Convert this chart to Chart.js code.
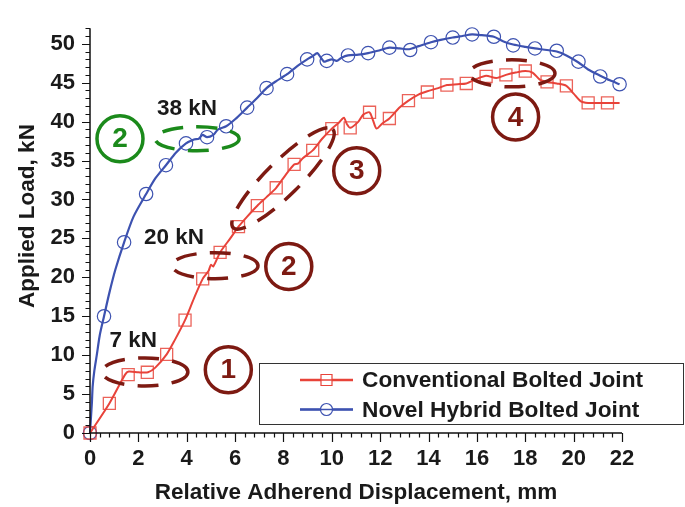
<!DOCTYPE html>
<html>
<head>
<meta charset="utf-8">
<script src="https://cdn.jsdelivr.net/npm/chart.js@4.4.0/dist/chart.umd.min.js"></script>
<style>
  html, body { margin: 0; padding: 0; background: #fff; }
  #wrap { width: 685px; height: 507px; }
</style>
</head>
<body>
<div id="wrap"><canvas id="chart" width="685" height="507"></canvas></div>
<script>
// --- DATA ---
const xTicks = [0, 2, 4, 6, 8, 10, 12, 14, 16, 18, 20, 22];
const yTicks = [0, 5, 10, 15, 20, 25, 30, 35, 40, 45, 50];
const seriesNames = ['Conventional Bolted Joint', 'Novel Hybrid Bolted Joint'];
const xTitle = 'Relative Adherend Displacement, mm';
const yTitle = 'Applied Load, kN';

// traced load-displacement curves [mm, kN]
const conventionalPath = [
  [0, 0], [0.8, 3.8], [1.45, 7.5], [1.6, 7.9], [2.0, 7.8], [2.4, 7.8], [2.7, 8.4], [3.17, 10.1],
  [3.5, 11.9], [3.93, 14.5], [4.3, 17.3], [4.66, 19.8], [4.9, 20.8], [5.0, 21.6], [5.1, 21.4],
  [5.38, 23.2], [5.8, 25.0], [6.14, 26.5], [6.5, 27.8], [6.92, 29.2], [7.3, 30.3], [7.7, 31.5],
  [8.1, 33.2], [8.44, 34.5], [8.6, 34.6], [8.8, 35.3], [9.21, 36.3], [9.6, 37.8], [10.0, 39.1],
  [10.3, 39.9], [10.5, 40.5], [10.62, 39.7], [10.76, 39.2], [11.1, 40.0], [11.3, 40.9], [11.56, 41.2],
  [11.7, 40.2], [11.85, 39.1], [12.1, 39.8], [12.38, 40.4], [12.8, 41.8], [13.17, 42.7], [13.6, 43.5],
  [13.95, 43.9], [14.4, 44.3], [14.76, 44.7], [15.2, 44.8], [15.56, 44.9], [16.0, 45.5], [16.38, 45.9],
  [16.8, 45.6], [17.2, 46.0], [17.6, 46.3], [18.0, 46.5], [18.3, 46.3], [18.6, 45.4], [18.9, 45.1],
  [19.3, 44.9], [19.7, 44.6], [20.0, 43.6], [20.3, 42.6], [20.6, 42.4], [21.0, 42.4], [21.4, 42.4],
  [21.9, 42.4]
];
const conventionalMarkers = [
  [0, 0], [0.8, 3.8], [1.58, 7.5], [2.37, 7.8], [3.17, 10.1], [3.93, 14.5], [4.66, 19.8], [5.38, 23.2],
  [6.14, 26.5], [6.92, 29.2], [7.7, 31.5], [8.44, 34.5], [9.21, 36.3], [10.0, 39.1], [10.76, 39.2],
  [11.56, 41.2], [12.38, 40.4], [13.17, 42.7], [13.95, 43.8], [14.76, 44.7], [15.56, 44.9], [16.38, 45.8],
  [17.2, 46.0], [18.0, 46.5], [18.9, 45.1], [19.7, 44.6], [20.6, 42.4], [21.4, 42.4]
];
const hybridPath = [
  [0, 0], [0.04, 2], [0.08, 4], [0.11, 6], [0.18, 8], [0.28, 10], [0.4, 12.5], [0.58, 15], [0.8, 18],
  [1.05, 21], [1.41, 24.5], [1.8, 27.8], [2.32, 30.7], [2.7, 32.7], [3.14, 34.4], [3.55, 36],
  [3.97, 37.2], [4.3, 37.7], [4.5, 37.8], [4.65, 38.3], [4.84, 38.0], [5.1, 38.3], [5.3, 39.0],
  [5.63, 39.4], [6.0, 40.3], [6.5, 41.8], [6.9, 43.0], [7.3, 44.3], [7.7, 45.2], [8.15, 46.1],
  [8.6, 47.2], [8.98, 48.0], [9.2, 48.4], [9.4, 48.8], [9.55, 48.2], [9.68, 47.7], [9.79, 47.8],
  [10.0, 48.0], [10.2, 47.8], [10.4, 48.2], [10.67, 48.5], [11.1, 48.6], [11.5, 48.8], [11.9, 49.1],
  [12.38, 49.5], [12.8, 49.4], [13.2, 49.3], [13.6, 49.7], [14.1, 50.2], [14.5, 50.5], [15.0, 50.8],
  [15.4, 51.0], [15.8, 51.2], [16.2, 51.1], [16.7, 50.9], [17.1, 50.3], [17.5, 49.9], [18.0, 49.6],
  [18.4, 49.4], [18.9, 49.2], [19.3, 49.0], [19.7, 48.5], [20.2, 47.6], [20.6, 46.7], [21.1, 45.9],
  [21.5, 45.3], [21.9, 44.8]
];
const hybridMarkers = [
  [0, 0], [0.58, 15.0], [1.41, 24.5], [2.32, 30.7], [3.14, 34.4], [3.97, 37.2], [4.84, 38.0], [5.63, 39.4],
  [6.5, 41.8], [7.3, 44.3], [8.15, 46.1], [8.98, 48.0], [9.79, 47.8], [10.67, 48.5], [11.5, 48.8],
  [12.38, 49.5], [13.24, 49.2], [14.1, 50.2], [15.0, 50.8], [15.8, 51.2], [16.7, 50.9], [17.5, 49.8],
  [18.4, 49.4], [19.3, 49.1], [20.2, 47.7], [21.1, 45.8], [21.9, 44.8]
];

// --- ANNOTATIONS (data coords, sizes in px) ---
const DARK_RED = '#7d1a12';
const GREEN = '#1b8a1b';
const stageLabels = [
  { x: 1.79, y: 11.8, text: '7 kN' },
  { x: 3.47, y: 25.1, text: '20 kN' },
  { x: 4.01, y: 41.6, text: '38 kN' }
];
const stageEllipses = [
  { x: 2.27, y: 7.85, rx: 43, ry: 14, rot: 0, color: DARK_RED },
  { x: 5.17, y: 21.5, rx: 43, ry: 13, rot: 0, color: DARK_RED },
  { x: 7.98, y: 32.7, rx: 70, ry: 17, rot: -0.78, color: DARK_RED },
  { x: 17.45, y: 46.2, rx: 43, ry: 13.5, rot: 0, color: DARK_RED },
  { x: 4.43, y: 37.8, rx: 42, ry: 12, rot: 0, color: GREEN }
];
const stageNumbers = [
  { x: 5.72, y: 8.13, text: '1', color: DARK_RED },
  { x: 8.22, y: 21.4, text: '2', color: DARK_RED },
  { x: 11.03, y: 33.7, text: '3', color: DARK_RED },
  { x: 17.6, y: 40.6, text: '4', color: DARK_RED },
  { x: 1.24, y: 37.8, text: '2', color: GREEN }
];

const RED = '#e8433a';
const RED_MARK = 'rgba(232, 70, 60, 0.85)';
const BLUE = '#3d52b0';
const FONT = '"Liberation Sans", Arial, Helvetica, sans-serif';
const toPts = arr => arr.map(p => ({ x: p[0], y: p[1] }));

// --- DECORATION PLUGIN ---
const decorPlugin = {
  id: 'decor',
  afterDatasetsDraw(chart) {
    const { ctx, scales: { x, y } } = chart;
    ctx.save();
    ctx.strokeStyle = '#111';
    ctx.lineWidth = 1.5;
    const x0 = x.left, x1 = x.right, yb = y.bottom, yt = y.top;
    ctx.beginPath();
    ctx.moveTo(x0, yt); ctx.lineTo(x0, yb); ctx.lineTo(x1, yb);
    ctx.stroke();
    ctx.lineWidth = 1.2;
    ctx.beginPath();
    for (let v = 0; v <= 52; v++) {
      const py = Math.round(y.getPixelForValue(v)) + 0.5;
      const len = v % 5 === 0 ? 8 : 4.5;
      ctx.moveTo(x0, py); ctx.lineTo(x0 - len, py);
    }
    for (let i = 0; i <= 55; i++) {
      const px = Math.round(x.getPixelForValue(i * 0.4)) + 0.5;
      const len = i % 5 === 0 ? 9 : 4.5;
      ctx.moveTo(px, yb); ctx.lineTo(px, yb + len);
    }
    ctx.stroke();

    // axis titles
    ctx.fillStyle = '#1a1a1a';
    ctx.font = 'bold 22.5px ' + FONT;
    ctx.textAlign = 'center';
    ctx.textBaseline = 'middle';
    ctx.fillText(xTitle, (x0 + x1) / 2, 493);
    ctx.save();
    ctx.translate(28, 216);
    ctx.rotate(-Math.PI / 2);
    ctx.fillText(yTitle, 0, 0);
    ctx.restore();

    // dashed ellipses
    ctx.lineWidth = 3.5;
    ctx.setLineDash([21, 13]);
    stageEllipses.forEach(e => {
      ctx.strokeStyle = e.color;
      ctx.beginPath();
      ctx.ellipse(x.getPixelForValue(e.x), y.getPixelForValue(e.y), e.rx, e.ry, e.rot, 0, Math.PI * 2);
      ctx.stroke();
    });
    ctx.setLineDash([]);

    // circled stage numbers
    stageNumbers.forEach(n => {
      const cx = x.getPixelForValue(n.x), cy = y.getPixelForValue(n.y);
      ctx.strokeStyle = n.color;
      ctx.lineWidth = 3.5;
      ctx.beginPath();
      ctx.arc(cx, cy, 23, 0, Math.PI * 2);
      ctx.stroke();
      ctx.fillStyle = n.color;
      ctx.font = 'bold 28px ' + FONT;
      ctx.fillText(n.text, cx, cy + 1);
    });

    // load labels
    ctx.fillStyle = '#1a1a1a';
    ctx.font = 'bold 22.5px ' + FONT;
    stageLabels.forEach(l => {
      ctx.fillText(l.text, x.getPixelForValue(l.x), y.getPixelForValue(l.y));
    });

    // legend box
    const bx = 259, by = 363, bw = 424, bh = 61;
    ctx.fillStyle = '#fff';
    ctx.fillRect(bx, by, bw, bh);
    ctx.strokeStyle = '#333';
    ctx.lineWidth = 1;
    ctx.strokeRect(bx + 0.5, by + 0.5, bw, bh);
    const rows = [
      { y: 380, color: RED, mark: 'rect' },
      { y: 409.5, color: BLUE, mark: 'circle' }
    ];
    rows.forEach((r, i) => {
      ctx.strokeStyle = r.color;
      ctx.lineWidth = 2.5;
      ctx.beginPath(); ctx.moveTo(300, r.y); ctx.lineTo(353, r.y); ctx.stroke();
      ctx.lineWidth = 1.2;
      ctx.fillStyle = '#fff';
      ctx.beginPath();
      if (r.mark === 'rect') ctx.rect(321, r.y - 5.5, 11, 11);
      else ctx.arc(326.5, r.y, 6, 0, Math.PI * 2);
      ctx.fill(); ctx.stroke();
      ctx.beginPath(); ctx.moveTo(300, r.y); ctx.lineTo(353, r.y);
      ctx.lineWidth = 1.5; ctx.stroke();
      ctx.fillStyle = '#1a1a1a';
      ctx.font = 'bold 22.7px ' + FONT;
      ctx.textAlign = 'left';
      ctx.fillText(seriesNames[i], 362, r.y + 1);
    });
    ctx.restore();
  }
};

// --- CHART ---
new Chart(document.getElementById('chart'), {
  type: 'scatter',
  data: {
    datasets: [
      { data: toPts(conventionalPath), showLine: true, borderColor: RED, borderWidth: 2, pointRadius: 0, tension: 0.25, clip: false },
      { data: toPts(conventionalMarkers), showLine: false, pointStyle: 'rect', pointRadius: 8.5, borderColor: RED_MARK, borderWidth: 1.3, backgroundColor: 'transparent', clip: false },
      { data: toPts(hybridPath), showLine: true, borderColor: BLUE, borderWidth: 2.2, pointRadius: 0, tension: 0.25, clip: false },
      { data: toPts(hybridMarkers), showLine: false, pointStyle: 'circle', pointRadius: 6.7, borderColor: BLUE, borderWidth: 1.2, backgroundColor: 'transparent', clip: false }
    ]
  },
  options: {
    responsive: false,
    animation: false,
    layout: { padding: { left: 0, top: 9, right: 63, bottom: 0 } },
    plugins: { legend: { display: false }, tooltip: { enabled: false } },
    scales: {
      x: {
        type: 'linear', min: 0, max: 22,
        afterBuildTicks: s => { s.ticks = xTicks.map(v => ({ value: v })); },
        afterFit: s => { s.height = 74; },
        ticks: { color: '#1a1a1a', padding: 13, maxRotation: 0, font: { family: FONT, size: 22, weight: 'bold' } },
        grid: { display: false, drawTicks: false },
        border: { display: false }
      },
      y: {
        type: 'linear', min: 0, max: 52,
        afterBuildTicks: s => { s.ticks = yTicks.map(v => ({ value: v })); },
        afterFit: s => { s.width = 90; },
        ticks: { color: '#1a1a1a', padding: 15, font: { family: FONT, size: 22, weight: 'bold' } },
        grid: { display: false, drawTicks: false },
        border: { display: false }
      }
    }
  },
  plugins: [decorPlugin]
});
</script>
</body>
</html>
